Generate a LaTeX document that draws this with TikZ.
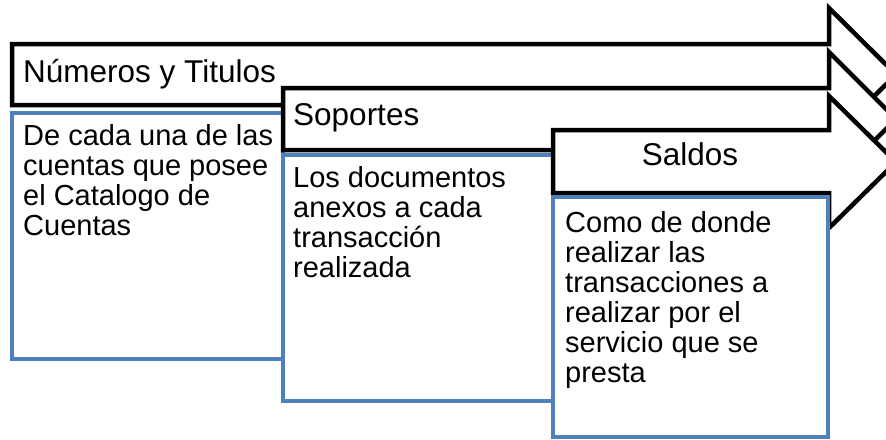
\documentclass[tikz,border=0pt]{standalone}
\usepackage{fontspec}
\setmainfont{Liberation Sans}
\definecolor{cardblue}{HTML}{4F81BD}

\begin{document}
\begin{tikzpicture}[x=1pt,y=-1pt,
    stagearrow/.style={draw=black,fill=white,line width=4.5pt,line join=miter},
    cardbox/.style={draw=cardblue,fill=white,line width=4pt},
    headtext/.style={inner sep=0pt,anchor=base west,font=\fontsize{31.5}{33}\selectfont},
    cardtext/.style={inner sep=0pt,anchor=base west,align=left,font=\fontsize{29}{30}\selectfont}]
    \useasboundingbox (0,0) rectangle (886,439);
    \clip (0,0) rectangle (886,439);
    % first stage
    \draw[stagearrow] (12,44) -- (829,44) -- (829,8) -- (896,74.5) -- (829,141) -- (829,105) -- (12,105) -- cycle;
    \node[headtext] (numeros) at (23,82) {Números y Titulos};
    \draw[cardbox] (12,113) rectangle (283,359);
    % anchored at the last line
    \node[cardtext] (cuentas) at (23,235) {De cada una de las\\cuentas que posee\\el Catalogo de\\Cuentas};
    % second stage
    \draw[stagearrow] (283,88) -- (829,88) -- (829,52) -- (896,119) -- (829,186) -- (829,150) -- (283,150) -- cycle;
    \node[headtext] (soportes) at (293,125) {Soportes};
    \draw[cardbox] (283,155) rectangle (553,401);
    \node[cardtext] (documentos) at (293,277) {Los documentos\\anexos a cada\\transacción\\realizada};
    % third stage
    \draw[stagearrow] (553,130) -- (829,130) -- (829,96) -- (896,162) -- (829,228) -- (829,193) -- (553,193) -- cycle;
    \node[headtext,anchor=base] (saldos) at (690,165) {Saldos};
    \draw[cardbox] (553,197) rectangle (828,437);
    \node[cardtext] (servicio) at (565,382) {Como de donde\\realizar las\\transacciones a\\realizar por el\\servicio que se\\presta};
\end{tikzpicture}
\end{document}
